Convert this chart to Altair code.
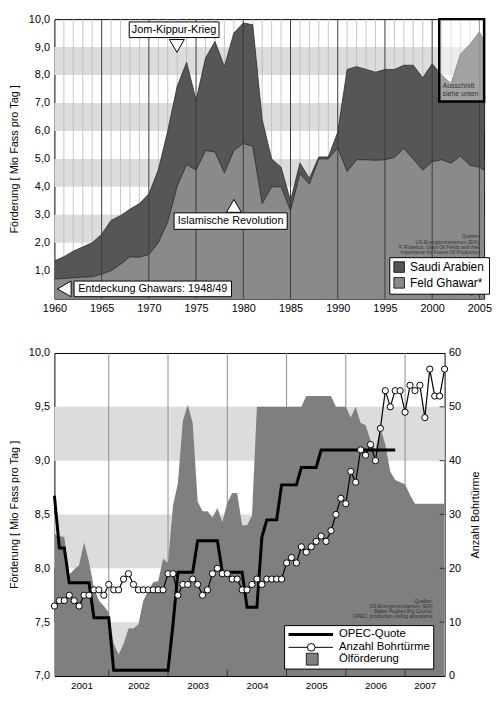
import altair as alt
import pandas as pd

FONT = "Liberation Sans"

# ---------------- top chart data (Mio Fass pro Tag) ----------------
top_years = list(range(1960, 2007))
saudi_arabien = [1.35, 1.50, 1.70, 1.85, 2.00, 2.30, 2.80, 2.97, 3.20, 3.40,
                 3.75, 4.60, 6.00, 7.60, 8.45, 7.10, 8.60, 9.20, 8.30, 9.50,
                 9.86, 9.80, 6.40, 5.00, 4.70, 3.50, 4.85, 4.30, 5.07, 5.07,
                 5.95, 8.20, 8.30, 8.20, 8.10, 8.20, 8.20, 8.35, 8.35, 7.90,
                 8.40, 8.00, 7.70, 8.75, 9.10, 9.55, 8.90]
feld_ghawar = [0.70, 0.72, 0.75, 0.77, 0.78, 0.88, 1.00, 1.23, 1.50, 1.48,
               1.58, 2.00, 2.75, 4.03, 4.80, 4.60, 5.30, 5.25, 4.50, 5.30,
               5.55, 5.45, 3.40, 4.00, 4.00, 3.15, 4.47, 4.10, 5.00, 5.00,
               5.40, 4.55, 4.97, 4.97, 4.95, 4.97, 5.05, 5.37, 5.00, 4.60,
               4.90, 4.97, 4.85, 5.10, 4.77, 4.70, 4.50]
top_bands_lo = [2, 4, 6, 8]
top_bands_hi = [3, 5, 7, 9]

# annotations (years / values)
ann_labels = ["Jom-Kippur-Krieg", "Islamische Revolution", "Entdeckung Ghawars: 1948/49"]
ann_x1 = [1967.92, 1972.67, 1962.08]
ann_x2 = [1977.43, 1984.65, 1978.75]
ann_y1 = [9.34, 2.48, 0.07]
ann_y2 = [9.90, 3.07, 0.63]
tri_year = [1972.97, 1979.01, 1961.04]
tri_val = [9.04, 3.32, 0.35]
tri_shape = ["triangle-down", "triangle-up", "triangle-left"]
tri_size = [225, 225, 256]

# ---------------- bottom chart data ----------------
months = [f"{2001 + k // 12}-{k % 12 + 1:02d}" for k in range(80)]  # 2001-01 .. 2007-08
oelfoerderung = [8.32, 8.30, 8.29, 7.94, 7.99, 8.03, 8.24, 8.06, 7.82, 7.70,
                 7.65, 7.59, 7.30, 7.20, 7.30, 7.44, 7.44, 7.48, 7.70, 7.79,
                 7.87, 7.88, 8.09, 8.05, 8.58, 8.79, 9.37, 9.52, 9.35, 8.62,
                 8.53, 8.53, 8.47, 8.56, 8.43, 8.61, 8.70, 8.70, 8.40, 8.40,
                 8.49, 9.50, 9.50, 9.50, 9.50, 9.50, 9.50, 9.50, 9.50, 9.50,
                 9.50, 9.60, 9.60, 9.60, 9.60, 9.60, 9.60, 9.50, 9.50, 9.50,
                 9.40, 9.50, 9.35, 9.33, 9.19, 9.10, 9.30, 9.15, 8.90, 8.82,
                 8.80, 8.78, 8.68, 8.60, 8.60, 8.60, 8.60, 8.60, 8.60, 8.60]
bohrtuerme = [13, 14, 14, 15, 14, 13, 15, 15, 16, 16,
              15, 17, 16, 16, 18, 19, 17, 16, 16, 16,
              16, 16, 16, 19, 19, 15, 17, 17, 18, 17,
              15, 16, 19, 20, 19, 19, 18, 18, 16, 16,
              17, 18, 17, 18, 18, 18, 18, 21, 22, 21,
              24, 23, 24, 25, 26, 25, 27, 30, 33, 32,
              38, 36, 42, 41, 43, 40, 46, 53, 50, 53,
              53, 49, 54, 53, 54, 48, 57, 52, 52, 57]
opec_quote = [8.674, 8.189, 8.189, 7.865, 7.865, 7.865, 7.865, 7.865, 7.541, 7.541,
              7.541, 7.541, 7.053, 7.053, 7.053, 7.053, 7.053, 7.053, 7.053, 7.053,
              7.053, 7.053, 7.053, 7.053, 7.476, 7.963, 7.963, 7.963, 7.963, 8.256,
              8.256, 8.256, 8.256, 8.256, 7.963, 7.963, 7.963, 7.963, 7.963, 7.638,
              7.638, 7.638, 8.288, 8.450, 8.450, 8.450, 8.775, 8.775, 8.775, 8.775,
              8.937, 8.937, 8.937, 8.937, 9.099, 9.099, 9.099, 9.099, 9.099, 9.099,
              9.099, 9.099, 9.099, 9.099, 9.099, 9.099, 9.099, 9.099, 9.099, 9.099]
bottom_bands_lo = [7.0, 8.0, 9.0]
bottom_bands_hi = [7.5, 8.5, 9.5]
bottom_years = [2001, 2002, 2003, 2004, 2005, 2006, 2007]


def month_pos(s):
    y, m = s.split("-")
    return int(y) + int(m) / 12.0  # plotted at month end


t = [month_pos(s) for s in months]
T0, T1 = t[0], t[-1]

# ---------------- frames ----------------
top_df = pd.DataFrame({"year": top_years, "saudi": saudi_arabien, "ghawar": feld_ghawar})
top_band_df = pd.DataFrame({"lo": top_bands_lo, "hi": top_bands_hi})
minor_df = pd.DataFrame({"yr": [y for y in range(1961, 2006) if y % 5]})
major_df = pd.DataFrame({"yr": list(range(1965, 2006, 5))})
ann_df = pd.DataFrame({"label": ann_labels, "x1": ann_x1, "x2": ann_x2, "y1": ann_y1, "y2": ann_y2})
ann_df["xc"] = (ann_df.x1 + ann_df.x2) / 2
ann_df["yc"] = (ann_df.y1 + ann_df.y2) / 2
tri_df = pd.DataFrame({"year": tri_year, "val": tri_val, "shape": tri_shape, "sz": tri_size})
auss_df = pd.DataFrame({"x1": [2000.75], "x2": [2005.5], "y1": [7.05], "y2": [10.0]})
one = pd.DataFrame({"a": [0]})

bot_df = pd.DataFrame({"t": t, "oil": oelfoerderung, "rigs": bohrtuerme})
opec_df = pd.DataFrame({"t": t[:len(opec_quote)], "opec": opec_quote})
bot_band_df = pd.DataFrame({"lo": bottom_bands_lo, "hi": bottom_bands_hi})
bound_df = pd.DataFrame({"yb": [y + 1 for y in bottom_years[:-1]]})
rig_tick_df = pd.DataFrame({"r": [10, 20, 30, 40, 50]})
label_pos = [(max(y, T0) + min(y + 1, T1)) / 2 for y in bottom_years]

comma = "replace(format(datum.value, '.1f'), '.', ',')"

TW, TH = 435, 283
BW, BH = 395, 327

# ---------------- top chart ----------------
xs_top = alt.Scale(domain=[1960, 2005.5], nice=False, zero=False)
ys_top = alt.Scale(domain=[0, 10], nice=False)
x_axis_top = alt.Axis(values=list(range(1960, 2006, 5)), format="d", ticks=False, grid=False,
                      domain=False, labelFontSize=11, labelPadding=4, labelColor="black",
                      labelFlush=False, title=None, labelFont=FONT)
y_axis_top = alt.Axis(values=list(range(1, 11)), labelExpr=comma, ticks=False, grid=False,
                      domain=False, labelFontSize=11, labelPadding=5, labelColor="black",
                      title="Förderung [ Mio Fass pro Tag ]", titleFontSize=11,
                      titleFontWeight="normal", titlePadding=9, titleColor="black",
                      labelFont=FONT, titleFont=FONT)
color_scale = alt.Scale(domain=["Saudi Arabien", "Feld Ghawar*"], range=["#565656", "#8a8a8a"])
legend_top = alt.Legend(orient="none", legendX=339, legendY=241, title=None, symbolType="square",
                        symbolSize=115, symbolStrokeColor="black", symbolStrokeWidth=0.8,
                        symbolOpacity=1, labelFontSize=12, labelColor="black", fillColor="white",
                        strokeColor="black", padding=4, rowPadding=2, labelOffset=5,
                        labelFont=FONT)

X_top = lambda f: alt.X(f, scale=xs_top, axis=x_axis_top)
Y_top = lambda f: alt.Y(f, scale=ys_top, axis=y_axis_top)
C_top = alt.Color("series:N", scale=color_scale, legend=legend_top)

t_bands = alt.Chart(top_band_df).mark_rect(color="#dcdcdc").encode(y=Y_top("lo:Q"), y2="hi:Q")
t_minor = alt.Chart(minor_df).mark_rule(color="#b8b8b8", strokeWidth=0.8).encode(x=X_top("yr:Q"))
t_saudi = alt.Chart(top_df).transform_calculate(series='"Saudi Arabien"').mark_area(clip=True).encode(
    x=X_top("year:Q"), y=Y_top("saudi:Q"), color=C_top)
t_saudi_l = alt.Chart(top_df).mark_line(color="#2a2a2a", strokeWidth=0.8, clip=True).encode(
    x=X_top("year:Q"), y=Y_top("saudi:Q"))
t_ghawar = alt.Chart(top_df).transform_calculate(series='"Feld Ghawar*"').mark_area(clip=True).encode(
    x=X_top("year:Q"), y=Y_top("ghawar:Q"), color=C_top)
t_ghawar_l = alt.Chart(top_df).mark_line(color="#2a2a2a", strokeWidth=0.8, clip=True).encode(
    x=X_top("year:Q"), y=Y_top("ghawar:Q"))
t_major = alt.Chart(major_df).mark_rule(color="#3a3a3a", strokeWidth=1).encode(x=X_top("yr:Q"))
t_auss = alt.Chart(auss_df).mark_rect(fill="white", fillOpacity=0.45, stroke="black",
                                       strokeWidth=2.5).encode(
    x=X_top("x1:Q"), x2="x2:Q", y=Y_top("y1:Q"), y2="y2:Q")
t_auss_txt = alt.Chart(one).mark_text(text=["Ausschnitt", "siehe unten"], align="left",
                                      baseline="top", fontSize=7, lineHeight=8, font=FONT,
                                      color="#333333").encode(x=alt.value(393), y=alt.value(64))
t_boxes = alt.Chart(ann_df).mark_rect(fill="white", stroke="black", strokeWidth=1).encode(
    x=X_top("x1:Q"), x2="x2:Q", y=Y_top("y1:Q"), y2="y2:Q")
t_box_txt = alt.Chart(ann_df).mark_text(fontSize=11, color="black", baseline="middle",
                                        font=FONT).encode(
    x=X_top("xc:Q"), y=Y_top("yc:Q"), text="label:N")
t_tri = alt.Chart(tri_df).mark_point(filled=True, fill="white", stroke="black", strokeWidth=1,
                                     opacity=1).encode(
    x=X_top("year:Q"), y=Y_top("val:Q"),
    shape=alt.Shape("shape:N", scale=None), size=alt.Size("sz:Q", scale=None))
t_src = alt.Chart(one).mark_text(
    text=["Quellen:", "US-Energieministerium (EIA),", "F. Robelius: Giant Oil Fields and their",
          "Importance for Future Oil Production"],
    align="right", baseline="top", fontSize=5, lineHeight=5.2, color="#333333", font=FONT).encode(
    x=alt.value(431), y=alt.value(218))
t_foot = alt.Chart(one).mark_text(text="* ab 2004 Schätzungen", align="right", baseline="middle",
                                  fontSize=5, color="#333333", font=FONT).encode(
    x=alt.value(429), y=alt.value(277))

top = alt.layer(t_bands, t_minor, t_saudi, t_saudi_l, t_ghawar, t_ghawar_l, t_major, t_auss,
                t_auss_txt, t_boxes, t_box_txt, t_tri, t_src, t_foot).properties(width=TW, height=TH)

# ---------------- bottom chart ----------------
xs_b = alt.Scale(domain=[T0, T1], nice=False, zero=False)
ys_b = alt.Scale(domain=[7, 10], nice=False, zero=False)
rs_b = alt.Scale(domain=[0, 60], nice=False)
x_axis_b = alt.Axis(values=label_pos, labelExpr="floor(datum.value)", ticks=False, grid=False,
                    domain=False, labelFontSize=10, labelPadding=5, labelColor="black",
                    labelFlush=False, title=None, labelFont=FONT)
y_axis_b = alt.Axis(values=[7.0, 7.5, 8.0, 8.5, 9.0, 9.5, 10.0], labelExpr=comma, ticks=False,
                    grid=False, domain=False, labelFontSize=11, labelPadding=5, labelColor="black",
                    title="Förderung [ Mio Fass pro Tag ]", titleFontSize=11,
                    titleFontWeight="normal", titlePadding=9, titleColor="black",
                    labelFont=FONT, titleFont=FONT)
r_axis_b = alt.Axis(orient="right", values=[0, 10, 20, 30, 40, 50, 60], ticks=False, grid=False,
                    domain=False, labelFontSize=11, labelPadding=4, labelColor="black",
                    title="Anzahl Bohrtürme", titleFontSize=11, titleFontWeight="normal",
                    titlePadding=9, titleColor="black", titleAngle=270, titleBaseline="top",
                    labelFont=FONT, titleFont=FONT)

X_b = lambda f: alt.X(f, scale=xs_b, axis=x_axis_b)
Y_b = lambda f: alt.Y(f, scale=ys_b, axis=y_axis_b)
R_b = lambda f: alt.Y(f, scale=rs_b, axis=r_axis_b)

b_bands = alt.Chart(bot_band_df).mark_rect(color="#dcdcdc").encode(y=Y_b("lo:Q"), y2="hi:Q")
b_rules = alt.Chart(bound_df).mark_rule(color="#8c8c8c", strokeWidth=1).encode(x=X_b("yb:Q"))
b_area = alt.Chart(bot_df).mark_area(color="#7f7f7f", clip=True).encode(
    x=X_b("t:Q"), y=Y_b("oil:Q"), y2=alt.datum(7.0))
b_ticks = alt.Chart(bound_df).mark_rule(color="#333333", strokeWidth=1).encode(
    x=X_b("yb:Q"), y=alt.value(BH), y2=alt.value(BH - 6))
b_opec = alt.Chart(opec_df).mark_line(color="black", strokeWidth=3).encode(
    x=X_b("t:Q"), y=Y_b("opec:Q"))
left = alt.layer(b_bands, b_rules, b_area, b_ticks, b_opec)

b_rticks = alt.Chart(rig_tick_df).mark_rule(color="#333333", strokeWidth=1).encode(
    x=alt.value(BW - 5), x2=alt.value(BW), y=R_b("r:Q"))
b_rig_line = alt.Chart(bot_df).mark_line(color="black", strokeWidth=1.2).encode(
    x=X_b("t:Q"), y=R_b("rigs:Q"))
b_rig_pts = alt.Chart(bot_df).mark_point(filled=True, fill="white", stroke="black", strokeWidth=1,
                                         opacity=1, size=40).encode(x=X_b("t:Q"), y=R_b("rigs:Q"))
right = alt.layer(b_rticks, b_rig_line, b_rig_pts)

b_src = alt.Chart(one).mark_text(
    text=["Quellen:", "US-Energieministerium (EIA)", "Baker Hughes Rig Counts,",
          "OPEC: production ceiling allocations"],
    align="right", baseline="top", fontSize=5, lineHeight=5.2, color="#333333", font=FONT).encode(
    x=alt.value(383), y=alt.value(249))
lg_box = alt.Chart(one).mark_rect(fill="white", stroke="black", strokeWidth=1).encode(
    x=alt.value(233), x2=alt.value(384), y=alt.value(276), y2=alt.value(320))
lg_opec = alt.Chart(one).mark_rule(color="black", strokeWidth=3).encode(
    x=alt.value(237), x2=alt.value(282), y=alt.value(285))
lg_rig = alt.Chart(one).mark_rule(color="black", strokeWidth=1).encode(
    x=alt.value(237), x2=alt.value(282), y=alt.value(298))
lg_rig_pt = alt.Chart(one).mark_point(filled=True, fill="white", stroke="black", strokeWidth=1,
                                      opacity=1, size=60).encode(x=alt.value(260), y=alt.value(298))
lg_sq = alt.Chart(one).mark_rect(fill="#7f7f7f", stroke="black", strokeWidth=0.8).encode(
    x=alt.value(255), x2=alt.value(267), y=alt.value(304), y2=alt.value(316))
lg_txt = alt.Chart(one).mark_text(text=["OPEC-Quote", "Anzahl Bohrtürme", "Ölförderung"],
                                  align="left", baseline="top", fontSize=11.5, lineHeight=12.5,
                                  color="black", font=FONT).encode(x=alt.value(288), y=alt.value(279))

bottom = alt.layer(left, right, b_src, lg_box, lg_opec, lg_rig, lg_rig_pt, lg_sq, lg_txt).resolve_scale(
    y="independent").properties(width=BW, height=BH)

chart = alt.vconcat(top, bottom, spacing=32,
                    padding={"left": 0, "top": 0, "right": 0, "bottom": 0}).configure(
    font=FONT).configure_view(stroke="black", strokeWidth=1)

chart.save("out.html", embed_options={"renderer": "svg", "actions": False})
